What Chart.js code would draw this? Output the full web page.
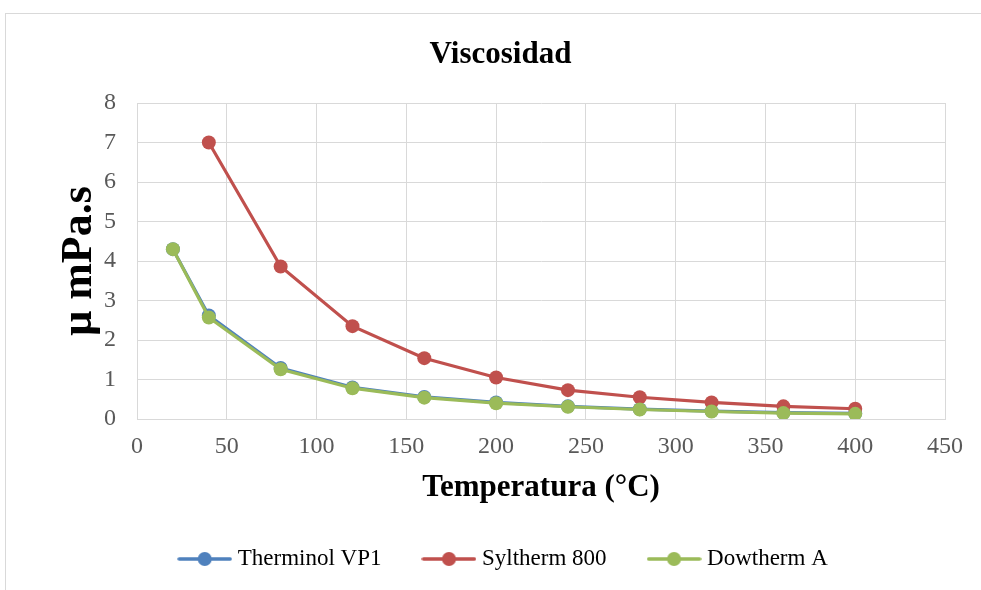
<!DOCTYPE html>
<html>
<head>
<meta charset="utf-8">
<script src="https://cdn.jsdelivr.net/npm/chart.js@4.4.0/dist/chart.umd.min.js"></script>
<style>
  body { margin: 0; background: #fff; }
  #wrap { position: relative; width: 981px; height: 590px; overflow: hidden; }
  #frame { position: absolute; left: 5px; top: 13px; width: 1000px; height: 600px;
           border-left: 1px solid #d9d9d9; border-top: 1px solid #d9d9d9; }
  canvas { position: absolute; left: 0; top: 0; }
</style>
</head>
<body>
<div id="wrap">
  <div id="frame"></div>
  <canvas id="chart" width="981" height="590"></canvas>
</div>
<script>
// temperatures (°C) and viscosities (mPa.s)
const temps = [20, 40, 80, 120, 160, 200, 240, 280, 320, 360, 400];
const therminol = [4.3, 2.62, 1.29, 0.80, 0.56, 0.42, 0.32, 0.25, 0.20, 0.16, 0.14];
const syltherm = [null, 7.0, 3.86, 2.35, 1.54, 1.05, 0.73, 0.55, 0.42, 0.32, 0.26];
const dowtherm = [4.3, 2.57, 1.26, 0.78, 0.54, 0.40, 0.31, 0.24, 0.19, 0.15, 0.13];

const seriesNames = ['Therminol VP1', 'Syltherm 800', 'Dowtherm A'];
const seriesColors = ['#4f81bd', '#c0504d', '#9bbb59'];

const xTicks = [0, 50, 100, 150, 200, 250, 300, 350, 400, 450];
const yTicks = [0, 1, 2, 3, 4, 5, 6, 7, 8];

const serif = "'Liberation Serif', 'Times New Roman', serif";

function toPoints(values) {
  const pts = [];
  values.forEach((v, i) => { if (v !== null) pts.push({ x: temps[i], y: v }); });
  return pts;
}

// legend icon: short line with a dot in the middle
function legendIcon(color) {
  const c = document.createElement('canvas');
  c.width = 55; c.height = 16;
  const g = c.getContext('2d');
  g.strokeStyle = color;
  g.lineWidth = 3.5;
  g.lineCap = 'round';
  g.beginPath(); g.moveTo(2, 8); g.lineTo(53, 8); g.stroke();
  g.fillStyle = color;
  g.beginPath(); g.arc(27.5, 8, 7, 0, Math.PI * 2); g.fill();
  return c;
}
const icons = seriesColors.map(legendIcon);

// title and legend sit a bit right of the canvas centre in the original
const blockShift = {
  id: 'blockShift',
  afterLayout(chart) {
    chart.legend.left += 33;
    chart.legend.right += 33;
    chart.titleBlock.left += 28;
    chart.titleBlock.right += 28;
  }
};

const allSeries = [therminol, syltherm, dowtherm];

new Chart(document.getElementById('chart'), {
  type: 'line',
  data: {
    datasets: allSeries.map((vals, i) => ({
      label: seriesNames[i],
      data: toPoints(vals),
      borderColor: seriesColors[i],
      backgroundColor: seriesColors[i],
      borderWidth: 3.2,
      pointRadius: 7,
      pointBorderWidth: 0,
      pointBackgroundColor: seriesColors[i],
      tension: 0,
      order: 2 - i
    }))
  },
  options: {
    responsive: false,
    animation: false,
    layout: { padding: { left: 0, right: 36, top: 0, bottom: 9.5 } },
    plugins: {
      title: {
        display: true,
        text: 'Viscosidad',
        color: '#000',
        font: { family: serif, size: 31, weight: 'bold' },
        padding: { top: 36, bottom: 29.8 }
      },
      legend: {
        position: 'bottom',
        labels: {
          usePointStyle: true,
          pointStyleWidth: 43,
          padding: 46,
          color: '#595959',
          font: { family: serif, size: 23 },
          generateLabels: (chart) => chart.data.datasets.map((ds, i) => ({
            text: ds.label,
            pointStyle: icons[i],
            fillStyle: seriesColors[i],
            strokeStyle: seriesColors[i],
            lineWidth: 0,
            hidden: false,
            datasetIndex: i
          }))
        }
      },
      tooltip: { enabled: false }
    },
    scales: {
      x: {
        type: 'linear',
        min: 0,
        max: 450,
        afterBuildTicks: (s) => { s.ticks = xTicks.map(v => ({ value: v })); },
        grid: { color: '#d9d9d9', lineWidth: 1, drawTicks: false },
        border: { color: '#d9d9d9' },
        ticks: { color: '#595959', padding: 13, font: { family: serif, size: 24 } },
        title: {
          display: true,
          text: 'Temperatura (°C)',
          color: '#000',
          font: { family: serif, size: 31, weight: 'bold', lineHeight: 0.8 },
          padding: { top: 1.8, bottom: 1.1 }
        }
      },
      y: {
        min: 0,
        max: 8,
        afterBuildTicks: (s) => { s.ticks = yTicks.map(v => ({ value: v })); },
        afterFit: (s) => { s.width = 137; },
        grid: { color: '#d9d9d9', lineWidth: 1, drawTicks: false },
        border: { color: '#d9d9d9' },
        ticks: { color: '#595959', padding: 21, font: { family: serif, size: 24 } },
        title: {
          display: true,
          text: 'μ mPa.s',
          color: '#000',
          font: { family: serif, size: 44, weight: 'bold' },
          padding: { top: 53.6, bottom: 0 }
        }
      }
    }
  },
  plugins: [blockShift]
});
</script>
</body>
</html>
